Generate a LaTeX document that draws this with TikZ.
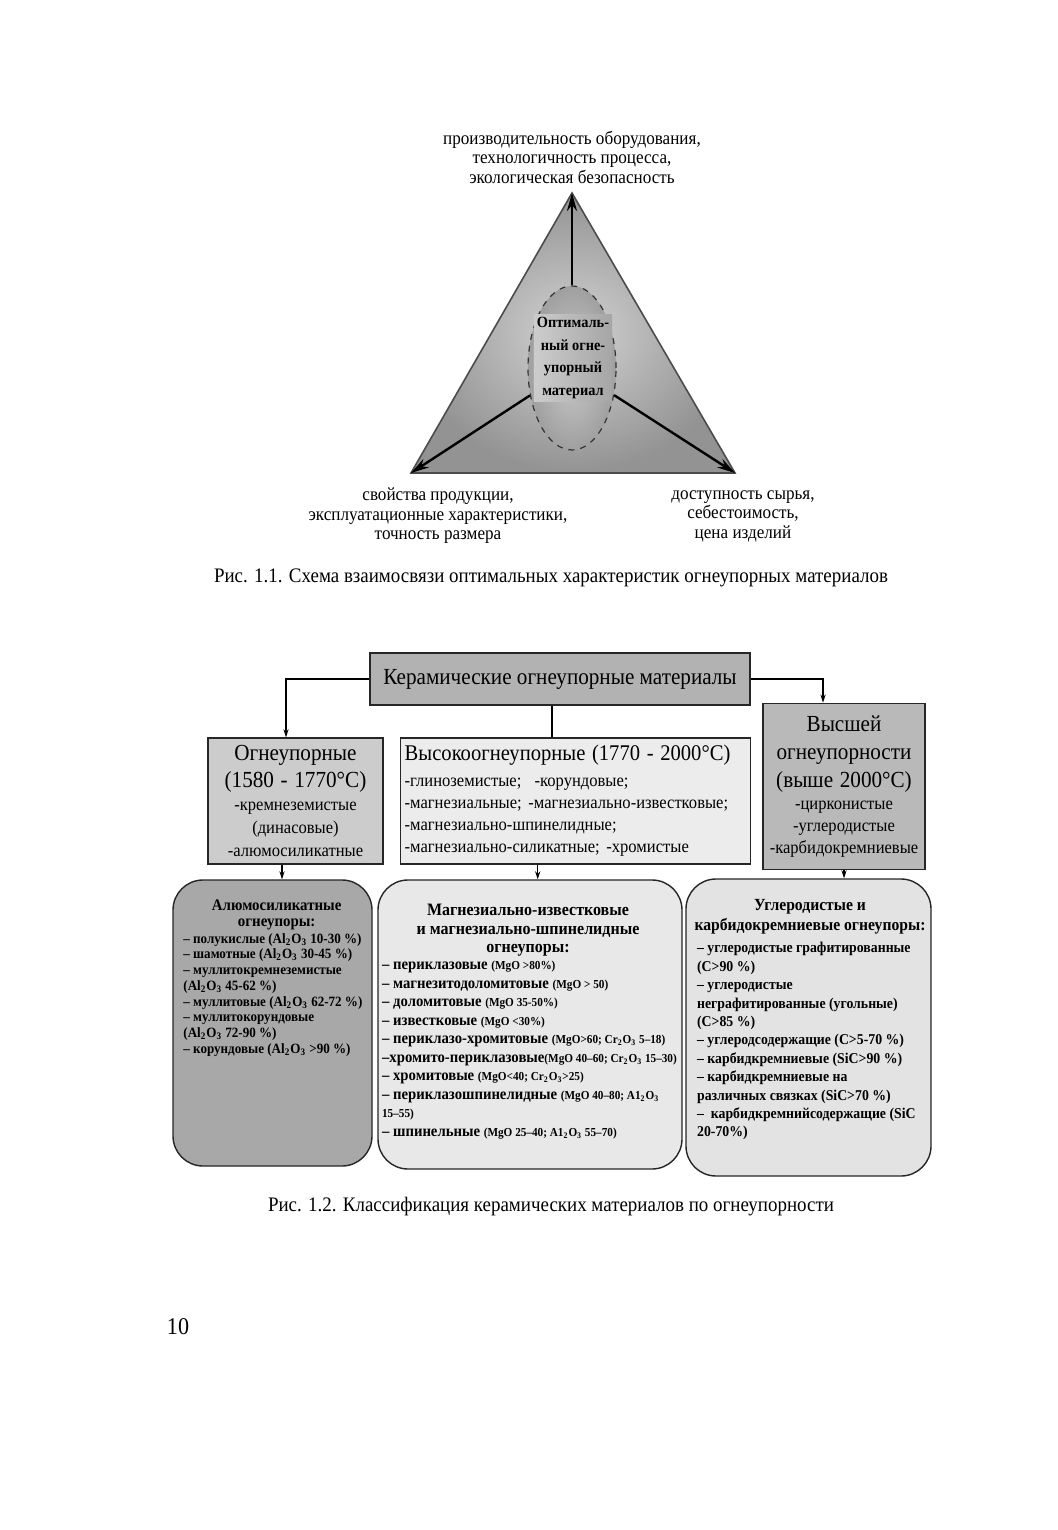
\documentclass[tikz,border=0pt]{standalone}
\usepackage{fontspec}
\setmainfont{Liberation Serif}[FakeStretch=0.92]
\usetikzlibrary{shapes.geometric,arrows.meta}

\newcommand\minor[1]{{\fontsize{6.1}{7}\selectfont #1}}
\newcommand\oxide[1]{#1\textsubscript{2}O\textsubscript{3}}

\begin{document}
\begin{tikzpicture}[
  x=0.5pt,y=-0.5pt,
  >=Stealth,
  tricap/.style={align=center,font=\fontsize{9.3}{9.75}\selectfont},
  figcap/.style={font=\fontsize{10.3}{12}\selectfont},
  flatbox/.style={draw=black!85,line width=0.7pt,inner sep=2pt},
  roundbox/.style={draw=black!85,line width=0.7pt,rounded corners=15pt},
  boxtitle/.style={anchor=north,inner sep=0pt,align=center},
  boxtext/.style={anchor=north west,inner sep=0pt,align=left},
  spoke/.style={->,line width=1.2pt,>={Stealth[length=9pt,width=5pt]}},
  feed/.style={->,line width=0.6pt,>={Stealth[length=4pt,width=2.6pt]}}
]
  \fill[white] (0,0) rectangle (1058,1530);
  \useasboundingbox (0,0) rectangle (1058,1530);

  % triangle
  \coordinate (apex) at (572,193);
  \coordinate (leftv) at (411,473);
  \coordinate (rightv) at (735,473);
  \shade[inner color=gray!35,outer color=gray!85] (apex) -- (leftv) -- (rightv) -- cycle;
  \draw[black!70,line width=0.8pt] (apex) -- (leftv) -- (rightv) -- cycle;
  \node[ellipse,draw=black!80,dashed,line width=0.6pt,shade,inner color=gray!40,outer color=gray!75,
    minimum width=44pt,minimum height=82pt,inner sep=0pt] (optimum) at (572,368) {};
  \node[left color=gray!40,right color=gray!70,inner sep=1.5pt,align=center,
    font=\bfseries\fontsize{7.8}{11.25}\selectfont] (optname) at (573,358)
    {Оптималь-\\ный огне-\\упорный\\материал};
  \draw[spoke] (optimum) -- (apex);
  \draw[spoke] (optimum) -- (leftv);
  \draw[spoke] (optimum) -- (rightv);
  \node[tricap] (prodlabel) at (572,157)
    {производительность оборудования,\\технологичность процесса,\\экологическая безопасность};
  \node[tricap] (proplabel) at (438,516)
    {свойства продукции,\\эксплуатационные характеристики,\\точность размера};
  \node[tricap] (costlabel) at (743,516)
    {доступность сырья,\\себестоимость,\\цена изделий};
  \node[figcap] (figone) at (551,578)
    {Рис. 1.1. Схема взаимосвязи оптимальных характеристик огнеупорных материалов};

  % classification
  \node[flatbox,fill=gray!60,minimum width=190pt,minimum height=26pt,
    font=\fontsize{11.5}{14}\selectfont] (ceramic) at (560,679) {Керамические огнеупорные материалы};
  \node[flatbox,fill=gray!40,text width=83.5pt,minimum height=63pt,align=center] (refr) at (295.5,801)
    {\fontsize{11.5}{13.5}\selectfont Огнеупорные\par(1580 - 1770°C)\par
     \fontsize{9}{11.5}\selectfont -кремнеземистые\par(динасовые)\par-алюмосиликатные\par};
  \node[flatbox,fill=gray!15,text width=171pt,minimum height=63pt,align=left] (hightemp) at (575.7,801)
    {\fontsize{11.2}{13.8}\selectfont \mbox{Высокоогнеупорные (1770 - 2000°C)}\par\vskip2pt
     \fontsize{9}{11}\selectfont \mbox{-глиноземистые;\ \ -корундовые;}\par
     \mbox{-магнезиальные; -магнезиально-известковые;}\par
     \mbox{-магнезиально-шпинелидные;}\par
     \mbox{-магнезиально-силикатные; -хромистые}\par};
  \node[flatbox,fill=gray!55,text width=77pt,minimum height=83pt,align=center] (highest) at (844,786.3)
    {\fontsize{11.5}{14}\selectfont Высшей\par огнеупорности\par(выше 2000°C)\par
     \fontsize{9}{11}\selectfont -цирконистые\par-углеродистые\par\mbox{-карбидокремниевые}\par};

  \node[roundbox,fill=gray!68,minimum width=99.5pt,minimum height=143pt] (alum) at (272.5,1023) {};
  \node[roundbox,fill=gray!18,minimum width=152pt,minimum height=144.5pt] (magn) at (530,1024.5) {};
  \node[roundbox,fill=gray!22,minimum width=122.5pt,minimum height=148.5pt] (carb) at (808.5,1027.5) {};

  \node[boxtitle,font=\bfseries\fontsize{8.1}{8.3}\selectfont] (alumtitle) at (276.7,899)
    {Алюмосиликатные\\огнеупоры:};
  \node[boxtext,font=\bfseries\fontsize{7.1}{7.86}\selectfont] (alumlist) at (183,933)
    {– полукислые (\oxide{Al} 10-30 \%)\\
     – шамотные (\oxide{Al} 30-45 \%)\\
     – муллитокремнеземистые\\
     (\oxide{Al} 45-62 \%)\\
     – муллитовые (\oxide{Al} 62-72 \%)\\
     – муллитокорундовые\\
     (\oxide{Al} 72-90 \%)\\
     – корундовые (\oxide{Al} >90 \%)};

  \node[boxtitle,font=\bfseries\fontsize{8.7}{9.35}\selectfont] (magntitle) at (528,903.5)
    {Магнезиально-известковые\\и магнезиально-шпинелидные\\огнеупоры:};
  \node[boxtext,font=\bfseries\fontsize{8}{9.25}\selectfont] (magnlist) at (381.7,961)
    {– периклазовые \minor{(MgO >80\%)}\\
     – магнезитодоломитовые \minor{(MgO > 50)}\\
     – доломитовые \minor{(MgO 35-50\%)}\\
     – известковые \minor{(MgO <30\%)}\\
     – периклазо-хромитовые \minor{(MgO>60; \oxide{Cr} 5–18)}\\
     –хромито-периклазовые\minor{(MgO 40–60; \oxide{Cr} 15–30)}\\
     – хромитовые \minor{(MgO<40; \oxide{Cr}>25)}\\
     – периклазошпинелидные \minor{(MgO 40–80; \oxide{A1}}\\
     \minor{15–55)}\\
     – шпинельные \minor{(MgO 25–40; \oxide{A1} 55–70)}};

  \node[boxtitle,font=\bfseries\fontsize{8.5}{10}\selectfont] (carbtitle) at (810,899)
    {Углеродистые и\\карбидокремниевые огнеупоры:};
  \node[boxtext,font=\bfseries\fontsize{7.5}{9.2}\selectfont] (carblist) at (696.7,942)
    {– углеродистые графитированные\\
     (C>90 \%)\\
     – углеродистые\\
     неграфитированные (угольные)\\
     (C>85 \%)\\
     – углеродсодержащие (C>5-70 \%)\\
     – карбидкремниевые (SiC>90 \%)\\
     – карбидкремниевые на\\
     различных связках (SiC>70 \%)\\
     –\ \ карбидкремнийсодержащие (SiC\\
     20-70\%)};

  \draw[feed] (ceramic.west) -| ([xshift=-4.75pt]refr.north);
  \draw[feed] (ceramic.east) -| ([xshift=-10.5pt]highest.north);
  \draw[line width=0.6pt] ([xshift=-4pt]ceramic.south) -- ([xshift=-4pt]ceramic.south |- hightemp.north);
  \draw[feed] ([xshift=-6.75pt]refr.south) -- ([xshift=-6.75pt]refr.south |- alum.north);
  \draw[feed] ([xshift=-19pt]hightemp.south) -- ([xshift=-19pt]hightemp.south |- magn.north);
  \draw[feed] (highest.south) -- (highest.south |- carb.north);

  \node[figcap] (figtwo) at (551,1207)
    {Рис. 1.2. Классификация керамических материалов по огнеупорности};
  \node[font=\fontsize{12}{14}\selectfont] (pageno) at (178,1327) {10};
\end{tikzpicture}
\end{document}
